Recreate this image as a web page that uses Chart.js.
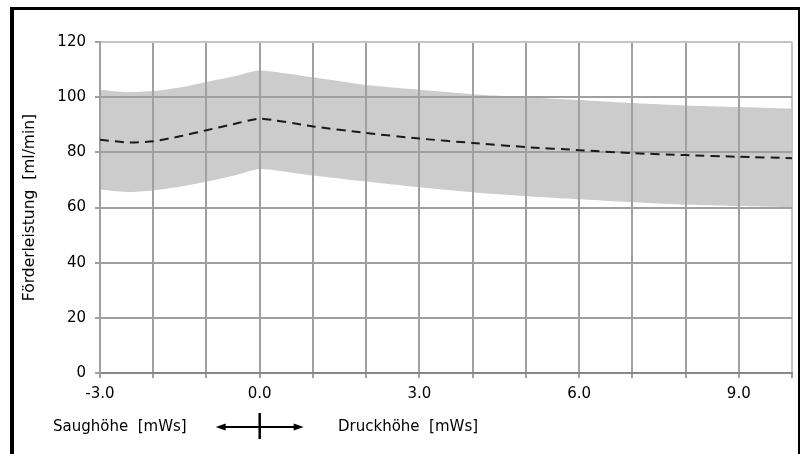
<!DOCTYPE html>
<html>
<head>
<meta charset="utf-8">
<script src="https://cdn.jsdelivr.net/npm/chart.js@4/dist/chart.umd.min.js"></script>
<style>
  body { margin: 0; background: #fff; overflow: hidden; }
  #wrap { position: relative; width: 803px; height: 454px; overflow: hidden; background: #fff; }
  #frame {
    position: absolute; left: 10px; top: 7px; width: 784px; height: 500px;
    border-left: 4px solid #000; border-top: 3px solid #000; border-right: 2px solid #000;
    pointer-events: none;
  }
  canvas { position: absolute; left: 0; top: 0; }
</style>
</head>
<body>
<div id="wrap">
  <canvas id="pumpChart" width="803" height="454"></canvas>
  <div id="frame"></div>
</div>
<script>
// Förderhöhe (negative = Saughöhe) in mWs
const heads = [-3, -2.5, -2, -1.5, -1, -0.5, 0, 1, 2, 3, 4, 5, 6, 7, 8, 9, 10];
// Förderleistung in ml/min
const meanFlow  = [84.6, 83.6, 84.0, 85.8, 88.0, 90.2, 92.2, 89.4, 87.0, 85.0, 83.4, 81.9, 80.8, 79.7, 79.0, 78.4, 77.9];
const upperFlow = [102.7, 101.8, 102.2, 103.5, 105.5, 107.5, 109.7, 107.2, 104.4, 102.7, 101.1, 100.0, 99.0, 97.9, 97.0, 96.4, 95.8];
const lowerFlow = [66.5, 65.6, 66.2, 67.5, 69.3, 71.5, 74.0, 71.6, 69.4, 67.3, 65.5, 64.1, 63.0, 61.9, 61.0, 60.5, 60.0];

const xLabelValues = [-3, 0, 3, 6, 9];
const yTicks = [0, 20, 40, 60, 80, 100, 120];

const FONT = 'DejaVu Sans';
const gridColor = '#a0a0a0';

function toPoints(ys) {
    return heads.map((x, i) => ({ x: x, y: ys[i] }));
}

// bottom captions with the arrow cross
const captionPlugin = {
    id: 'captions',
    afterDraw(chart) {
        const c = chart.ctx;
        const x0 = chart.scales.x.getPixelForValue(0);
        const y = 427;
        c.save();
        c.fillStyle = '#000';
        c.font = '15px "' + FONT + '"';
        c.textBaseline = 'middle';
        c.textAlign = 'left';
        c.fillText('Saughöhe  [mWs]', 53, y);
        c.fillText('Druckhöhe  [mWs]', 338, y);

        c.strokeStyle = '#000';
        c.lineWidth = 2;
        c.beginPath();
        c.moveTo(x0 - 38, y);
        c.lineTo(x0 + 38, y);
        c.stroke();
        c.lineWidth = 2.5;
        c.beginPath();
        c.moveTo(x0, y - 14);
        c.lineTo(x0, y + 12);
        c.stroke();
        // arrow heads
        c.fillStyle = '#000';
        c.beginPath();
        c.moveTo(x0 - 44, y);
        c.lineTo(x0 - 34, y - 3.5);
        c.lineTo(x0 - 34, y + 3.5);
        c.closePath();
        c.fill();
        c.beginPath();
        c.moveTo(x0 + 44, y);
        c.lineTo(x0 + 34, y - 3.5);
        c.lineTo(x0 + 34, y + 3.5);
        c.closePath();
        c.fill();
        c.restore();
    }
};

const ctx = document.getElementById('pumpChart').getContext('2d');
const pumpChart = new Chart(ctx, {
    type: 'line',
    data: {
        datasets: [
            {
                label: 'max',
                data: toPoints(upperFlow),
                borderWidth: 0,
                pointRadius: 0,
                backgroundColor: '#cccccc',
                fill: '+1',
                tension: 0.2
            },
            {
                label: 'min',
                data: toPoints(lowerFlow),
                borderWidth: 0,
                pointRadius: 0,
                fill: false,
                tension: 0.2
            },
            {
                label: 'mittel',
                data: toPoints(meanFlow),
                borderColor: '#1a1a1a',
                borderWidth: 2,
                borderDash: [9, 6],
                pointRadius: 0,
                fill: false,
                tension: 0.2
            }
        ]
    },
    options: {
        responsive: false,
        animation: false,
        layout: { padding: { top: 42, right: 11, left: 0, bottom: 0 } },
        plugins: {
            legend: { display: false },
            tooltip: { enabled: false },
            filler: { drawTime: 'beforeDraw' }
        },
        scales: {
            x: {
                type: 'linear',
                min: -3,
                max: 10,
                afterFit(scale) { scale.height = 81; },
                border: { color: '#888', width: 2 },
                grid: {
                    color: c => c.tick && c.tick.value === 10 ? '#c4c4c4' : gridColor,
                    lineWidth: 2,
                    tickLength: 5,
                    tickColor: gridColor
                },
                ticks: {
                    stepSize: 1,
                    maxRotation: 0,
                    autoSkip: false,
                    padding: 7,
                    color: '#000',
                    font: { family: FONT, size: 15 },
                    callback: v => xLabelValues.includes(v) ? v.toFixed(1) : ''
                }
            },
            y: {
                min: 0,
                max: 120,
                afterFit(scale) { scale.width = 100; },
                afterBuildTicks(scale) { scale.ticks = yTicks.map(v => ({ value: v })); },
                border: { color: gridColor, width: 2 },
                grid: {
                    color: c => c.tick && c.tick.value === 120 ? '#c4c4c4' : gridColor,
                    lineWidth: 2,
                    tickLength: 5,
                    tickColor: gridColor
                },
                ticks: {
                    padding: 9,
                    color: '#000',
                    font: { family: FONT, size: 15 }
                },
                title: {
                    display: true,
                    text: 'Förderleistung  [ml/min]',
                    color: '#000',
                    font: { family: FONT, size: 15.5 },
                    padding: { top: 21, bottom: 0 }
                }
            }
        }
    },
    plugins: [captionPlugin]
});
</script>
</body>
</html>
